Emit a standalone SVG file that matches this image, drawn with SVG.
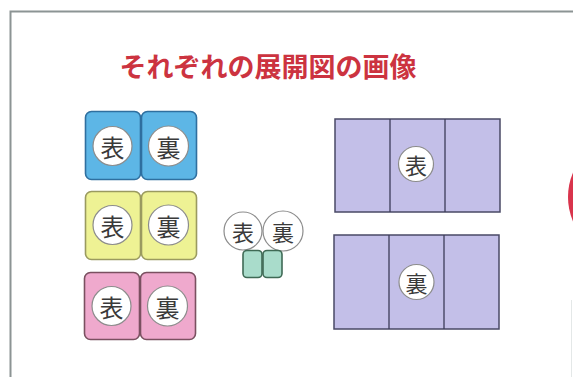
<svg xmlns="http://www.w3.org/2000/svg" width="573" height="377" viewBox="0 0 573 377">
<style>
.card{stroke-width:1.6}
.blue{fill:#5db6e6;stroke:#2f6f9f}
.yellow{fill:#eef294;stroke:#9a9a60}
.pink{fill:#efa9cd;stroke:#7a5060}
.green{fill:#a9dccb;stroke:#3f6a55;stroke-width:1.6}
.sheet{fill:#c3bfe8;stroke:#4a4a66;stroke-width:1.5}
.fold{stroke:#3c3c58;stroke-width:1.3;fill:none}
.dot{fill:#ffffff;stroke:#8c8c8c;stroke-width:1.2}
.ch{font-family:"Noto Sans CJK JP","Noto Sans CJK SC",sans-serif;fill:#3a3a3a;text-anchor:middle;dominant-baseline:central}
.title{font-family:"Noto Sans CJK JP","Noto Sans CJK SC",sans-serif;font-weight:bold;fill:#cc3340;font-size:27px;text-anchor:middle}
</style>
<rect x="0" y="0" width="573" height="377" fill="#ffffff"/>
<path d="M10.5 377 V11.5 H573" fill="none" stroke="#8c9494" stroke-width="2"/>
<line x1="571.5" y1="300" x2="571.5" y2="377" stroke="#e4e8e8" stroke-width="1"/>
<circle cx="630" cy="197" r="62" fill="#d9344c"/>
<text class="title" x="268" y="77">それぞれの展開図の画像</text>
<g id="blue-pair">
<rect class="card blue" x="85.5" y="111.5" width="55" height="68" rx="6"/>
<rect class="card blue" x="141.5" y="111.5" width="55" height="68" rx="6"/>
<circle class="dot" cx="112.5" cy="146" r="19.5"/>
<text class="ch" x="112.5" y="146" font-size="24">表</text>
<circle class="dot" cx="168.5" cy="146" r="20"/>
<text class="ch" x="168.5" y="146" font-size="24">裏</text>
</g>
<g id="yellow-pair">
<rect class="card yellow" x="85.5" y="191.5" width="55" height="68" rx="6"/>
<rect class="card yellow" x="141.5" y="191.5" width="55" height="68" rx="6"/>
<circle class="dot" cx="112.5" cy="225" r="19.5"/>
<text class="ch" x="112.5" y="225" font-size="24">表</text>
<circle class="dot" cx="168.5" cy="225" r="20"/>
<text class="ch" x="168.5" y="225" font-size="24">裏</text>
</g>
<g id="pink-pair">
<rect class="card pink" x="84.5" y="272.5" width="55" height="67" rx="6"/>
<rect class="card pink" x="140.5" y="272.5" width="55" height="67" rx="6"/>
<circle class="dot" cx="111.5" cy="306" r="19.5"/>
<text class="ch" x="111.5" y="306" font-size="24">表</text>
<circle class="dot" cx="167.5" cy="306" r="20"/>
<text class="ch" x="167.5" y="306" font-size="24">裏</text>
</g>
<g id="small-piece">
<circle class="dot" cx="243" cy="231" r="19"/>
<text class="ch" x="243" y="231" font-size="22">表</text>
<circle class="dot" cx="283" cy="231" r="20"/>
<text class="ch" x="283" y="231" font-size="22">裏</text>
<rect class="green" x="243" y="250.5" width="19" height="27" rx="4"/>
<rect class="green" x="263" y="250.5" width="19" height="27" rx="4"/>
</g>
<g id="sheet-front">
<rect class="sheet" x="335" y="119" width="165" height="93"/>
<line class="fold" x1="390" y1="119" x2="390" y2="212"/>
<line class="fold" x1="445" y1="119" x2="445" y2="212"/>
<circle class="dot" cx="416" cy="164" r="17.5"/>
<text class="ch" x="416" y="164" font-size="22">表</text>
</g>
<g id="sheet-back">
<rect class="sheet" x="334" y="235" width="165" height="94"/>
<line class="fold" x1="389" y1="235" x2="389" y2="329"/>
<line class="fold" x1="444" y1="235" x2="444" y2="329"/>
<circle class="dot" cx="416.5" cy="282" r="17.5"/>
<text class="ch" x="416.5" y="282" font-size="22">裏</text>
</g>
<g id="connectors"></g>
</svg>
